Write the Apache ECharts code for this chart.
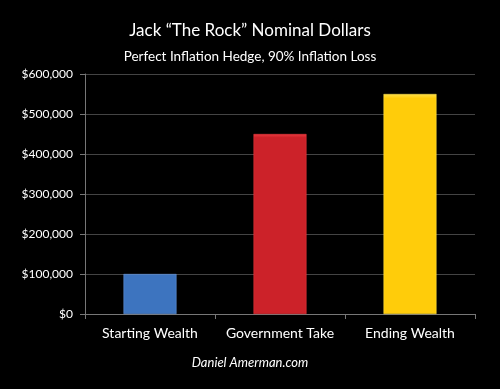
<!DOCTYPE html>
<html><head><meta charset="utf-8">
<script src="https://cdn.jsdelivr.net/npm/echarts@6/dist/echarts.min.js"></script>
<style>html,body{margin:0;padding:0;background:#000;}#c{width:500px;height:389px;}</style>
</head><body><div id="c"></div>
<script>
var categories = ['Starting Wealth', 'Government Take', 'Ending Wealth'];
var values = [100000, 450000, 550000];
var barColors = ['#3d74bf', '#cc2229', '#ffcc0a'];
var topColors = ['#6d9de0', '#ec3a3f', '#ffe04a'];
var yTicks = [0, 100000, 200000, 300000, 400000, 500000, 600000];

var chart = echarts.init(document.getElementById('c'));
var font = 'Lato, "Open Sans", sans-serif';
chart.setOption({
  backgroundColor: '#000',
  animation: false,
  title: [
    {text: 'Jack \u201CThe Rock\u201D Nominal Dollars', left: 'center', top: 17,
     textStyle: {color: '#fff', fontSize: 17, fontWeight: 'normal', fontFamily: font}},
    {text: 'Perfect Inflation Hedge, 90% Inflation Loss', left: 'center', top: 45,
     textStyle: {color: '#fff', fontSize: 13.5, fontWeight: 'normal', fontFamily: font}},
    {text: 'Daniel Amerman.com', left: 'center', top: 351,
     textStyle: {color: '#fff', fontSize: 13, fontWeight: 'normal', fontStyle: 'italic', fontFamily: font}}
  ],
  grid: {left: 85, right: 25, top: 74, bottom: 75},
  xAxis: {
    type: 'category', data: categories,
    axisLine: {lineStyle: {color: '#777'}},
    axisTick: {show: true, length: 5, lineStyle: {color: '#777'}},
    axisLabel: {color: '#fff', fontSize: 14, fontFamily: font, margin: 12, interval: 0}
  },
  yAxis: {
    type: 'value', min: yTicks[0], max: yTicks[yTicks.length - 1], interval: 100000,
    axisLine: {show: true, lineStyle: {color: '#777'}},
    axisTick: {show: true, length: 5, lineStyle: {color: '#777'}},
    splitLine: {lineStyle: {color: '#444', width: 1}},
    axisLabel: {color: '#fff', fontSize: 12, fontFamily: font, margin: 12,
      formatter: function (v) { return '$' + v.toLocaleString('en-US'); }}
  },
  series: [{
    type: 'bar', barWidth: 53,
    data: values.map(function (v, i) {
      return {value: v, itemStyle: {
        color: new echarts.graphic.LinearGradient(0, 0, 0, 1, [
          {offset: 0, color: topColors[i]},
          {offset: 0.02, color: barColors[i]},
          {offset: 1, color: barColors[i]}
        ]),
        borderColor: topColors[i], borderWidth: 0.5
      }};
    })
  }]
});
</script></body></html>
